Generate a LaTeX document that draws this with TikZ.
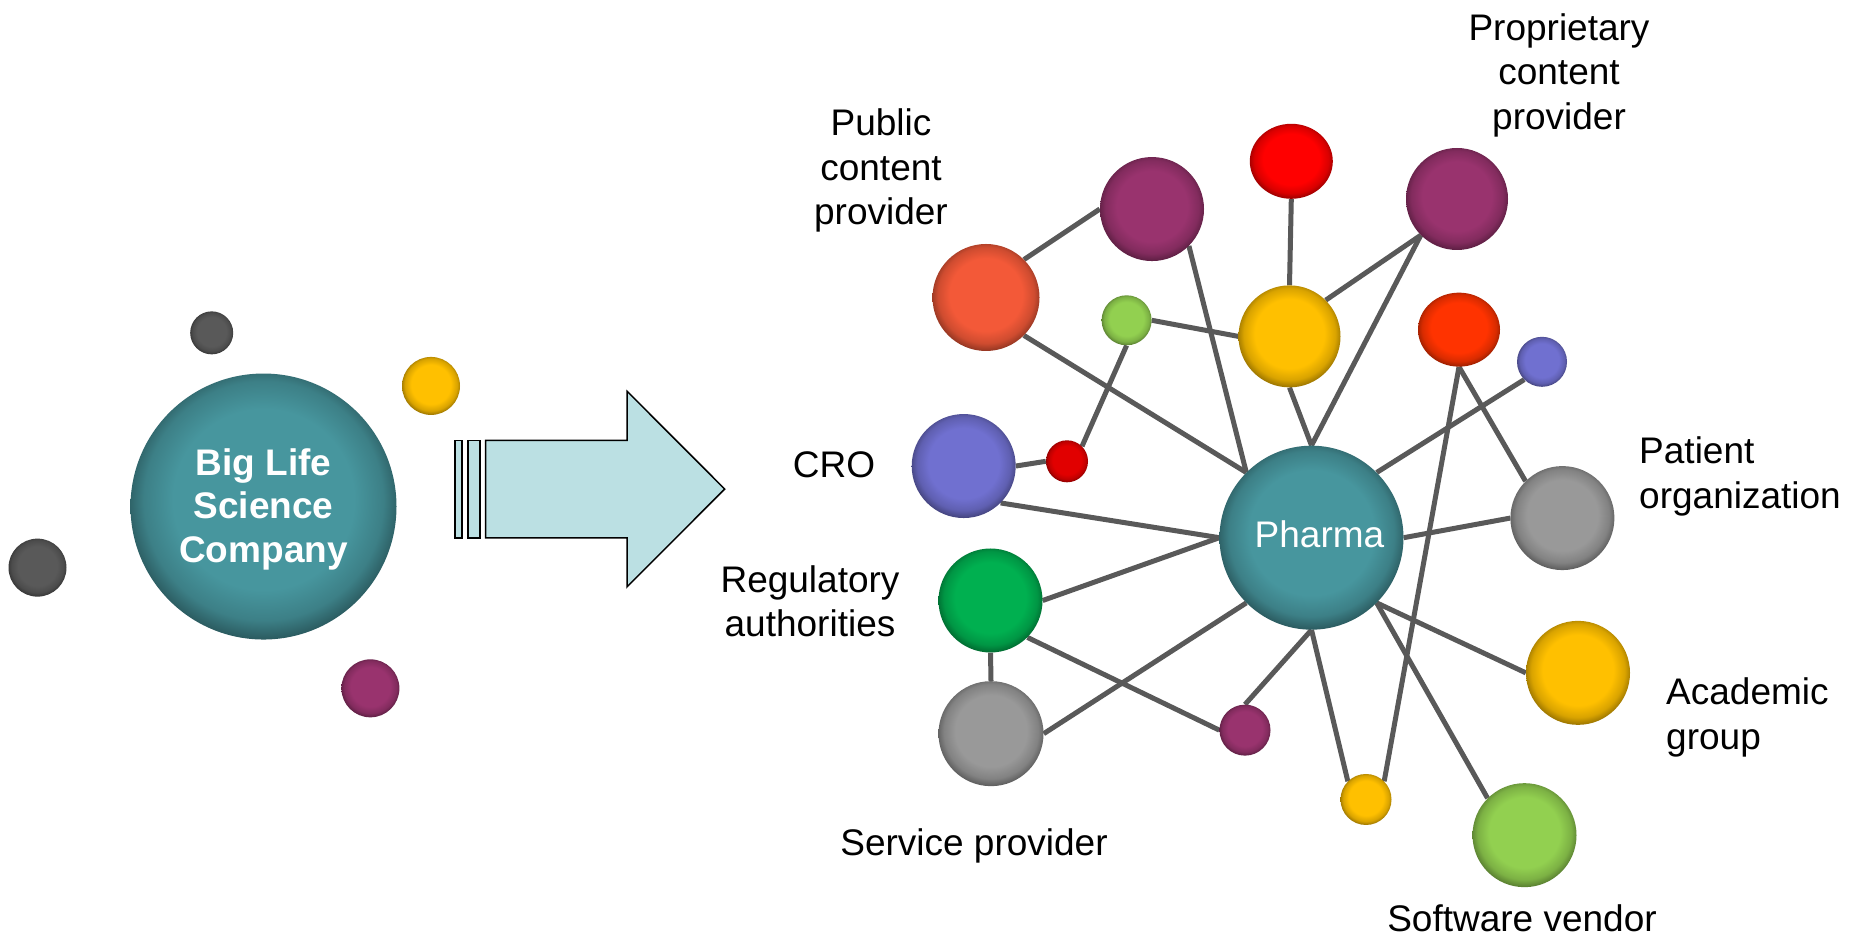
\documentclass[tikz,border=0pt]{standalone}
\usepackage{fontspec}
\setmainfont{Liberation Sans}
\usetikzlibrary{shapes.geometric,backgrounds}
\definecolor{cTeal}{RGB}{71,150,158}
\definecolor{cArrow}{RGB}{187,224,227}
\definecolor{cDark}{RGB}{89,89,89}
\definecolor{cYellow}{RGB}{255,192,0}
\definecolor{cPurple}{RGB}{153,51,110}
\definecolor{cOrange}{RGB}{243,89,56}
\definecolor{cRed}{RGB}{255,0,0}
\definecolor{cRedOr}{RGB}{255,51,0}
\definecolor{cLGreen}{RGB}{146,208,80}
\definecolor{cBlue}{RGB}{112,112,208}
\definecolor{cGreen}{RGB}{0,176,80}
\definecolor{cGray}{RGB}{153,153,153}
\definecolor{cDRed}{RGB}{225,0,0}
\definecolor{cLine}{RGB}{89,89,89}
\makeatletter
\pgfdeclareradialshading[rimc]{rimball}{\pgfpoint{0bp}{2bp}}{%
  color(0bp)=(rimc); color(17bp)=(rimc); color(22.5bp)=(rimc!85!black);
  color(26bp)=(rimc!60!black); color(50bp)=(rimc!60!black)}
\tikzset{rim/.code={\colorlet{rimc}{#1}\def\tikz@shading{rimball}\tikz@addmode{\tikz@mode@shadetrue}}}
\makeatother
\tikzset{
  bub/.style={circle, inner sep=0pt, minimum size=#1pt},
  ebub/.style 2 args={ellipse, inner sep=0pt, minimum width=#1pt, minimum height=#2pt},
  edge/.style={draw=cLine, line width=5pt},
  lbl/.style={font=\fontsize{37}{44.5}\selectfont, inner sep=0pt, text=black},
  wtxt/.style={inner sep=0pt, text=white},
  arrowshape/.style={fill=cArrow, draw=black, line width=1.5pt, line join=miter},
}
\begin{document}
\begin{tikzpicture}[x=1pt,y=-1pt]
\useasboundingbox (0,0) rectangle (1863,937);
\begin{scope}[y=-1.005pt]
% left side
\node[bub=266, rim=cTeal] (big) at (263.5,504) {};
\node[bub=43, rim=cDark] (d1) at (211.7,331.2) {};
\node[bub=58, rim=cYellow] (y1) at (431,384) {};
\node[bub=58, rim=cDark] (d2) at (37.5,564.8) {};
\node[bub=58, rim=cPurple] (p1) at (370.4,684.9) {};
% arrow
\draw[arrowshape] (454.8,438.2) rectangle (462,535.1);
\draw[arrowshape] (468,438.2) rectangle (480,535.1);
\draw[arrowshape] (485.7,438.2) -- (627.2,438.2) -- (627.2,389.4) -- (724.7,486.6) -- (627.2,583.8) -- (627.2,535.1) -- (485.7,535.1) -- cycle;
% network nodes
\node[bub=107, rim=cOrange] (pub) at (986,296) {};
\node[bub=104, rim=cPurple] (ptl) at (1152,208) {};
\node[ebub={83}{75}, rim=cRed] (rtop) at (1291.3,160.5) {};
\node[bub=102, rim=cPurple] (ptr) at (1457,198) {};
\node[bub=50, rim=cLGreen] (sg) at (1126.6,318.7) {};
\node[bub=102, rim=cYellow] (ym) at (1289.5,334.7) {};
\node[ebub={82}{74}, rim=cRedOr] (ro) at (1459,328) {};
\node[bub=50, rim=cBlue] (sb) at (1542,360) {};
\node[bub=104, rim=cBlue] (cro) at (963.7,463.7) {};
\node[bub=42, rim=cDRed] (sr) at (1067,459) {};
\node[bub=184, rim=cTeal] (ph) at (1311.5,535) {};
\node[bub=104, rim=cGreen] (reg) at (990.5,597.5) {};
\node[bub=105, rim=cGray] (srv) at (991,730) {};
\node[bub=51, rim=cPurple] (spb) at (1245,726.5) {};
\node[bub=51, rim=cYellow] (syb) at (1366,795.5) {};
\node[bub=104, rim=cGray] (pat) at (1562.4,515.5) {};
\node[bub=104, rim=cYellow] (aca) at (1578,669.5) {};
\node[bub=104, rim=cLGreen] (sw) at (1524.5,831) {};
\end{scope}
% edges
\begin{scope}[on background layer]
\draw[edge] (pub.north east) -- (ptl.west);
\draw[edge] (pub.south east) -- (ph.north west);
\draw[edge] (ptl.south east) -- (ph.north west);
\draw[edge] (sg.east) -- (ym.west);
\draw[edge] (sg.south) -- (sr.north east);
\draw[edge] (rtop.south) -- (ym.north);
\draw[edge] (ym.north east) -- (ptr.south west);
\draw[edge] (ym.south) -- (ph.north);
\draw[edge] (ptr.south west) -- (ph.north);
\draw[edge] (ro.south) -- (pat.north west);
\draw[edge] (ro.south) -- (syb.north east);
\draw[edge] (sb.south west) -- (ph.north east);
\draw[edge] (cro.east) -- (sr.west);
\draw[edge] (cro.south east) -- (ph.west);
\draw[edge] (ph.east) -- (pat.west);
\draw[edge] (ph.west) -- (reg.east);
\draw[edge] (ph.south west) -- (srv.east);
\draw[edge] (reg.south) -- (srv.north);
\draw[edge] (reg.south east) -- (spb.west);
\draw[edge] (ph.south) -- (spb.north);
\draw[edge] (ph.south) -- (syb.north west);
\draw[edge] (ph.south east) -- (aca.west);
\draw[edge] (ph.south east) -- (sw.north west);
\end{scope}
% texts in circles
\node[wtxt, font=\fontsize{37}{43.5}\selectfont\bfseries, align=center, anchor=north] (bigtxt) at (263.5,448) {Big Life\\Science\\Company};
\node[wtxt, font=\fontsize{37}{44.5}\selectfont, anchor=base] (phtxt) at (1319.5,547.5) {Pharma};
% labels
\node[lbl, align=center, anchor=north] (lpub) at (881,108.5) {Public\\content\\provider};
\node[lbl, align=center, anchor=north] (lptr) at (1559,13.3) {Proprietary\\content\\provider};
\node[lbl, anchor=base] (lcro) at (834,477) {CRO};
\node[lbl, align=center, anchor=north] (lreg) at (810,565) {Regulatory\\authorities};
\node[lbl, anchor=base] (lsrv) at (974,855) {Service provider};
\node[lbl, align=left, anchor=north west] (lpat) at (1639,436.5) {Patient\\organization};
\node[lbl, align=left, anchor=north west] (laca) at (1666,677.5) {Academic\\group};
\node[lbl, anchor=base] (lsw) at (1522,931.5) {Software vendor};
\end{tikzpicture}
\end{document}
